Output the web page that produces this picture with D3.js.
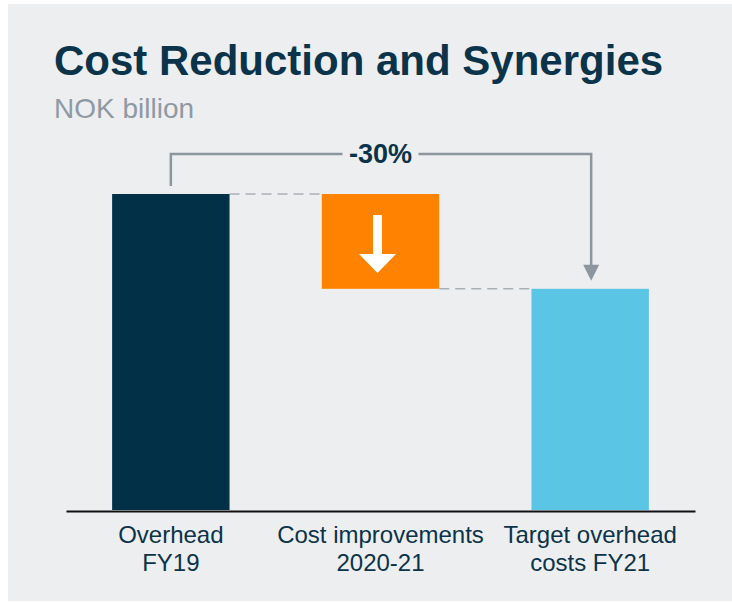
<!DOCTYPE html>
<html>
<head>
<meta charset="utf-8">
<script src="https://cdn.jsdelivr.net/npm/d3@7"></script>
<style>
  html, body { margin: 0; padding: 0; background: #ffffff; }
  svg { display: block; }
</style>
</head>
<body>
<svg id="chart" width="732" height="603"></svg>
<script>
// ---- data ----
const categories = ["Overhead FY19", "Cost improvements 2020-21", "Target overhead costs FY21"];
const labelLines = [["Overhead", "FY19"], ["Cost improvements", "2020-21"], ["Target overhead", "costs FY21"]];
const startValues = [0, 10, 0];
const endValues = [10, 7, 7];
const changeLabel = "-30%";
const titleText = "Cost Reduction and Synergies";
const subtitleText = "NOK billion";

// ---- styles ----
const barColors = ["#023046", "#ff8200", "#5bc5e6"];
const navy = "#0b3349";

const svg = d3.select("#chart");
const font = "'Liberation Sans', Arial, sans-serif";

svg.append("rect").attr("x", 8).attr("y", 4).attr("width", 724).attr("height", 597).attr("fill", "#edeef0");

svg.append("text").attr("x", 54).attr("y", 75)
  .attr("font-family", font).attr("font-weight", "bold").attr("font-size", 42)
  .attr("fill", navy).text(titleText);
svg.append("text").attr("x", 54).attr("y", 118)
  .attr("font-family", font).attr("font-size", 28)
  .attr("fill", "#8f99a3").text(subtitleText);

const x = d3.scaleBand().domain(categories).range([66, 695]).paddingInner(0.44).paddingOuter(0.22);
const y = d3.scaleLinear().domain([0, 10]).range([510, 194]);

// dashed connectors
const dashG = svg.append("g");
for (let i = 0; i < categories.length - 1; i++) {
  const v = endValues[i];
  dashG.append("line")
    .attr("x1", x(categories[i]) + x.bandwidth()).attr("x2", x(categories[i + 1]))
    .attr("y1", y(v)).attr("y2", y(v))
    .attr("stroke", "#a9b1b8").attr("stroke-width", 1.6).attr("stroke-dasharray", "10,6");
}

// bars
svg.append("g").selectAll("rect").data(categories).join("rect")
  .attr("x", d => x(d)).attr("width", x.bandwidth())
  .attr("y", (d, i) => y(Math.max(startValues[i], endValues[i])))
  .attr("height", (d, i) => Math.abs(y(startValues[i]) - y(endValues[i])))
  .attr("fill", (d, i) => barColors[i]);

// white down arrow in the change bar
const cx = x(categories[1]) + x.bandwidth() / 2 - 3;
const topA = 215, baseA = 254, tipA = 273;
svg.append("rect").attr("x", cx - 4.5).attr("y", topA).attr("width", 9).attr("height", baseA - topA + 1).attr("fill", "#ffffff");
svg.append("path").attr("d", `M${cx - 18.5},${baseA} L${cx + 18.5},${baseA} L${cx},${tipA} Z`).attr("fill", "#ffffff");

// bracket
const lx = x(categories[0]) + x.bandwidth() / 2;
const rx = x(categories[2]) + x.bandwidth() / 2 + 1;
const by = 154;
const midX = x(categories[1]) + x.bandwidth() / 2;
const gray = "#8c969f";
svg.append("path")
  .attr("d", `M${lx},${y(endValues[0]) - 8} L${lx},${by} L${midX - 38},${by}`)
  .attr("fill", "none").attr("stroke", gray).attr("stroke-width", 2.5);
svg.append("path")
  .attr("d", `M${midX + 38},${by} L${rx},${by} L${rx},${y(endValues[2]) - 22}`)
  .attr("fill", "none").attr("stroke", gray).attr("stroke-width", 2.5);
svg.append("path")
  .attr("d", `M${rx - 8},${y(endValues[2]) - 24} L${rx + 8},${y(endValues[2]) - 24} L${rx},${y(endValues[2]) - 8} Z`)
  .attr("fill", gray);
svg.append("text").attr("x", midX).attr("y", 163).attr("text-anchor", "middle")
  .attr("font-family", font).attr("font-weight", "bold").attr("font-size", 27)
  .attr("fill", navy).text(changeLabel);

// axis
const axis = svg.append("g").attr("transform", "translate(0,511)")
  .call(d3.axisBottom(x).tickSize(0).tickSizeOuter(0).tickPadding(0));
axis.select(".domain").attr("stroke", "#111111").attr("stroke-width", 2);
axis.selectAll(".tick text").each(function(d, i) {
  const t = d3.select(this);
  t.text(null).attr("y", 0).attr("dy", null)
    .attr("font-family", font).attr("font-size", 24).attr("fill", navy);
  labelLines[i].forEach((line, j) => {
    t.append("tspan").attr("x", 0).attr("y", 32 + j * 28).text(line);
  });
});
</script>
</body>
</html>
